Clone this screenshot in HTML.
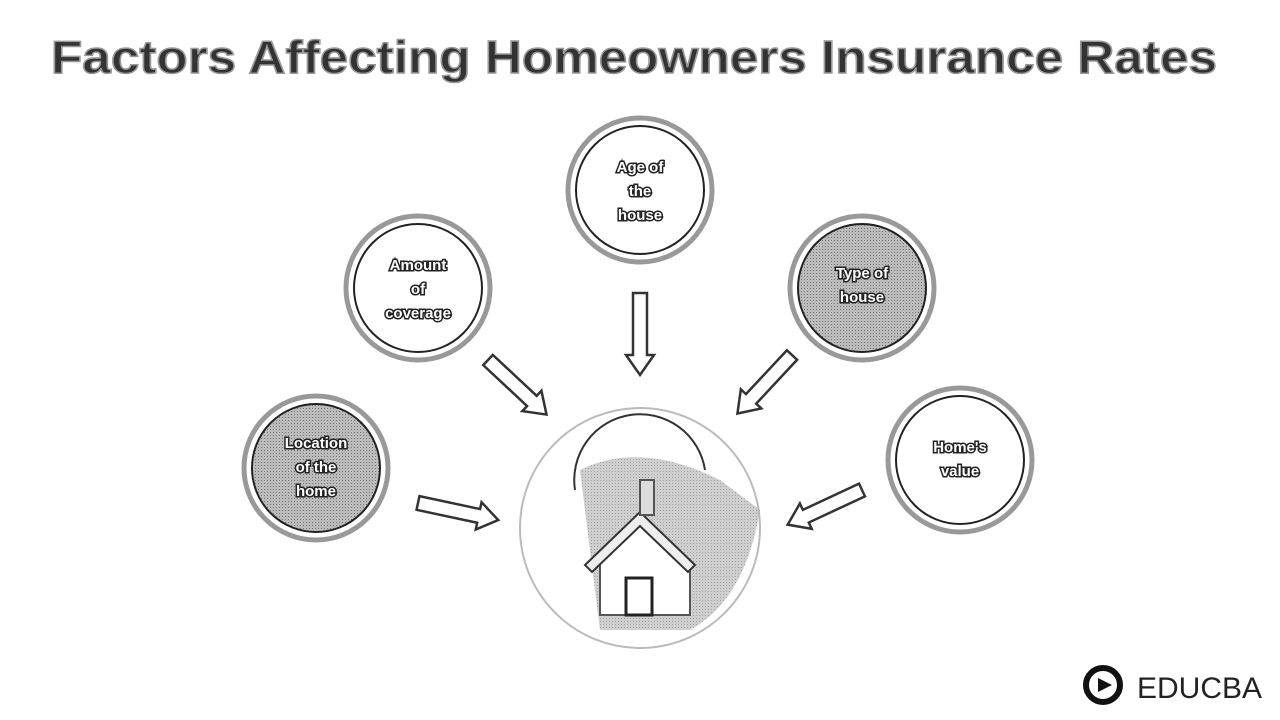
<!DOCTYPE html>
<html><head><meta charset="utf-8"><style>
html,body{margin:0;padding:0;background:#fff;}
svg{display:block;font-family:"Liberation Sans",sans-serif;}
.lbl{font-weight:bold;font-size:15px;fill:#fff;stroke:#222;stroke-width:3px;paint-order:stroke;text-anchor:middle;}
</style></head><body>
<svg width="1280" height="720" viewBox="0 0 1280 720">
<defs>
<pattern id="dots" width="3" height="3" patternUnits="userSpaceOnUse"><rect width="3" height="3" fill="#bbb"/><rect width="1" height="1" fill="#777"/></pattern>
</defs>
<text x="634" y="73" text-anchor="middle" font-size="46" font-weight="bold" fill="#333" stroke="#999" stroke-width="1.5" textLength="1166" lengthAdjust="spacingAndGlyphs">Factors Affecting Homeowners Insurance Rates</text>

<g>
<circle cx="640" cy="190" r="72" fill="#fff" stroke="#999" stroke-width="5"/>
<circle cx="640" cy="190" r="64" fill="#fff" stroke="#222" stroke-width="2"/>
<text class="lbl" x="640" y="172">Age of</text><text class="lbl" x="640" y="196">the</text><text class="lbl" x="640" y="220">house</text>
</g>
<g>
<circle cx="418" cy="288" r="72" fill="#fff" stroke="#999" stroke-width="5"/>
<circle cx="418" cy="288" r="64" fill="#fff" stroke="#222" stroke-width="2"/>
<text class="lbl" x="418" y="270">Amount</text><text class="lbl" x="418" y="294">of</text><text class="lbl" x="418" y="318">coverage</text>
</g>
<g>
<circle cx="862" cy="288" r="72" fill="#fff" stroke="#999" stroke-width="5"/>
<circle cx="862" cy="288" r="64" fill="url(#dots)" stroke="#222" stroke-width="2"/>
<text class="lbl" x="862" y="278">Type of</text><text class="lbl" x="862" y="302">house</text>
</g>
<g>
<circle cx="316" cy="468" r="72" fill="#fff" stroke="#999" stroke-width="5"/>
<circle cx="316" cy="468" r="64" fill="url(#dots)" stroke="#222" stroke-width="2"/>
<text class="lbl" x="316" y="448">Location</text><text class="lbl" x="316" y="472">of the</text><text class="lbl" x="316" y="496">home</text>
</g>
<g>
<circle cx="960" cy="460" r="72" fill="#fff" stroke="#999" stroke-width="5"/>
<circle cx="960" cy="460" r="64" fill="#fff" stroke="#222" stroke-width="2"/>
<text class="lbl" x="960" y="452">Home's</text><text class="lbl" x="960" y="476">value</text>
</g>

<g fill="#fff" stroke="#333" stroke-width="2.5">
<g transform="translate(640,293) rotate(90)"><polygon points="0,-7 62,-7 62,-14 82,0 62,14 62,7 0,7"/></g>
<g transform="translate(488,360) rotate(43)"><polygon points="0,-7 60,-7 60,-14 80,0 60,14 60,7 0,7"/></g>
<g transform="translate(792,355) rotate(133)"><polygon points="0,-7 60,-7 60,-14 80,0 60,14 60,7 0,7"/></g>
<g transform="translate(418,503) rotate(12)"><polygon points="0,-7 62,-7 62,-14 82,0 62,14 62,7 0,7"/></g>
<g transform="translate(862,490) rotate(155)"><polygon points="0,-7 62,-7 62,-14 82,0 62,14 62,7 0,7"/></g>
</g>

<g>
<circle cx="640" cy="528" r="120" fill="#fff" stroke="#bbb" stroke-width="2"/>
<path d="M575,490 A65,65 0 0 1 705,470" fill="none" stroke="#333" stroke-width="2"/>
<path d="M580,470 Q640,440 720,480 L760,510 Q745,600 690,630 L600,630 Z" fill="url(#dots)" opacity="0.7"/>
<polygon points="600,560 640,520 690,560 690,615 600,615" fill="#fff" stroke="#555" stroke-width="2"/>
<polygon points="585,565 640,512 695,565 688,572 640,526 592,572" fill="#eee" stroke="#333" stroke-width="2"/>
<rect x="626" y="578" width="26" height="37" fill="#fff" stroke="#222" stroke-width="3"/>
<rect x="640" y="480" width="14" height="35" fill="#ddd" stroke="#555" stroke-width="2"/>
</g>

<g>
<circle cx="1103" cy="685" r="17" fill="none" stroke="#111" stroke-width="6"/>
<polygon points="1098,678 1112,685 1098,692" fill="#111"/>
<text x="1137" y="698" font-size="30" fill="#222">EDUCBA</text>
</g>
</svg>
</body></html>
